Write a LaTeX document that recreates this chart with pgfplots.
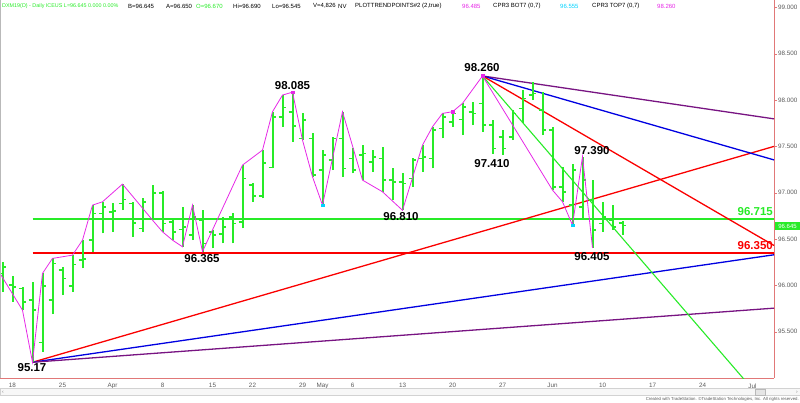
\documentclass[border=0pt]{standalone}
\usepackage{pgfplots}
\pgfplotsset{compat=1.18}
\usepackage{pgfplotstable}
\usepackage{fontspec}
\setmainfont{Liberation Sans}

\definecolor{barg}{RGB}{40,235,40}
\definecolor{lred}{RGB}{250,0,0}
\definecolor{lblue}{RGB}{0,0,225}
\definecolor{lpurple}{RGB}{120,20,130}
\definecolor{swing}{RGB}{230,40,230}
\definecolor{dotcyan}{RGB}{0,210,255}
\definecolor{axred}{RGB}{225,120,120}
\definecolor{lblgray}{RGB}{90,90,90}

% daily bars: day index, high, low, open, close
\pgfplotstableread{
d H L O C
-1 96.254 95.930 96.129 96.200
0 96.099 95.822 96.002 95.984
1 95.977 95.732 95.967 95.822
2 96.038 95.170 95.840 95.732
3 96.129 95.282 95.383 95.991
4 96.291 95.689 95.840 96.237
5 96.193 95.894 96.164 96.075
6 96.326 95.930 95.991 96.226
7 96.488 96.183 96.272 96.283
8 96.866 96.362 96.488 96.777
9 96.902 96.561 96.777 96.848
10 96.885 96.578 96.794 96.805
11 97.093 96.812 96.885 96.928
12 96.902 96.524 96.885 96.675
13 96.939 96.578 96.615 96.902
14 97.082 96.704 96.712 96.999
15 97.021 96.578 96.999 96.669
16 96.704 96.488 96.686 96.578
17 96.848 96.416 96.604 96.632
18 96.866 96.488 96.542 96.740
19 96.812 96.365 96.704 96.453
20 96.596 96.399 96.578 96.542
21 96.740 96.453 96.553 96.632
22 96.777 96.453 96.740 96.669
23 97.298 96.615 96.686 97.155
24 97.101 96.902 97.082 96.963
25 97.460 96.939 96.963 97.323
26 97.874 97.263 97.270 97.820
27 98.054 97.712 97.820 97.921
28 98.085 97.550 97.874 97.719
29 97.856 97.568 97.586 97.784
30 97.640 97.172 97.586 97.190
31 97.460 96.866 97.244 97.406
32 97.604 97.244 97.352 97.586
33 97.874 97.172 97.586 97.263
34 97.479 97.209 97.371 97.244
35 97.514 97.136 97.406 97.425
36 97.460 97.226 97.334 97.388
37 97.496 97.010 97.371 97.136
38 97.263 96.920 97.136 97.118
39 97.209 96.810 97.118 97.101
40 97.371 97.064 97.155 97.352
41 97.514 97.226 97.371 97.388
42 97.712 97.263 97.371 97.676
43 97.856 97.586 97.694 97.820
44 97.874 97.712 97.766 97.856
45 97.964 97.622 97.792 97.928
46 97.982 97.730 97.874 97.856
47 98.260 97.658 97.964 97.730
48 97.784 97.420 97.730 97.479
49 97.676 97.410 97.604 97.479
50 97.892 97.568 97.604 97.856
51 98.108 97.748 97.910 98.018
52 98.198 98.000 98.054 98.072
53 98.090 97.622 97.892 97.676
54 97.712 97.028 97.676 97.064
55 97.280 96.902 97.064 97.010
56 97.309 96.650 96.866 97.244
57 97.390 96.723 96.848 97.136
58 97.136 96.405 96.920 96.596
59 96.902 96.578 96.669 96.740
60 96.866 96.596 96.704 96.632
61 96.690 96.545 96.670 96.645
}\bars

\pgfdeclareplotmark{opentick}{\pgfpathmoveto{\pgfqpoint{-3.8pt}{0pt}}\pgfpathlineto{\pgfqpoint{0pt}{0pt}}\pgfusepathqstroke}
\pgfdeclareplotmark{closetick}{\pgfpathmoveto{\pgfqpoint{0pt}{0pt}}\pgfpathlineto{\pgfqpoint{3.8pt}{0pt}}\pgfusepathqstroke}

\begin{document}
\begin{tikzpicture}
\begin{axis}[
    at={(0pt,24pt)}, anchor=south west,
    width=774pt, height=378pt, scale only axis,
    xmin=-1.25, xmax=76.15,
    ymin=95.0, ymax=99.08,
    clip mode=individual,
    axis x line*=bottom, axis y line*=right,
    axis line style={draw=axred, line width=0.7pt},
    tick align=outside,
    major tick length=3pt,
    ytick={95.5,96,96.5,97,97.5,98,98.5,99},
    yticklabels={95.500,96.000,96.500,97.000,97.500,98.000,98.500,99.000},
    ytick style={draw=axred},
    xtick={0,5,10,15,20,24,29,31,34,39,44,49,54,59,64,69,74},
    xticklabels={18,25,Apr,8,15,22,29,May,6,13,20,27,Jun,10,17,24,Jul},
    xtick style={draw=none},
    ticklabel style={font=\fontsize{6.3}{7}\selectfont, text=lblgray},
    yticklabel style={inner sep=1pt},
    xticklabel style={yshift=1pt},
]
% support / resistance lines
\addplot[barg, line width=1.7pt] coordinates {(2,96.715) (76.15,96.715)};
\addplot[lred, line width=1.7pt] coordinates {(2,96.35) (76.15,96.35)};
% lines from the 95.17 low
\addplot[lred, line width=1.3pt] coordinates {(2,95.17) (76.15,97.50)};
\addplot[lblue, line width=1.3pt] coordinates {(2,95.17) (76.15,96.33)};
\addplot[lpurple, line width=1.3pt] coordinates {(2,95.17) (76.15,95.754)};
% lines from the 98.260 high
\addplot[lpurple, line width=1.3pt] coordinates {(47,98.26) (76.15,97.797)};
\addplot[lblue, line width=1.3pt] coordinates {(47,98.26) (76.15,97.354)};
\addplot[lred, line width=1.3pt] coordinates {(47,98.26) (76.15,96.43)};
\addplot[barg, line width=1.1pt] coordinates {(47,98.26) (74,94.88)};

% OHLC bars
\addplot[draw=none, mark=none, error bars/.cd, y dir=plus, y explicit,
    error mark=none, error bar style={draw=barg, line width=2pt}]
    table[x=d, y=L, y error expr=\thisrow{H}-\thisrow{L}] {\bars};
\addplot[only marks, mark=opentick, draw=barg, mark options={draw=barg, solid, line width=1.6pt}] table[x=d, y=O] {\bars};
\addplot[only marks, mark=closetick, draw=barg, mark options={draw=barg, solid, line width=1.6pt}] table[x=d, y=C] {\bars};

% swing line
\addplot[swing, line width=0.8pt] coordinates {
(-1.25,96.129) (1,95.732) (2,95.17) (3,96.129) (4,96.291) (6,96.326) (7,96.488)
(8,96.866) (9,96.902) (11,97.093) (14,96.704) (15,96.578) (16,96.488) (17,96.416)
(18,96.866) (19,96.365) (23,97.298) (25,97.460) (26,97.874) (27,98.054) (28,98.085)
(29,97.568) (30,97.172) (31,96.866) (33,97.874) (35,97.136) (37,97.010) (39,96.810)
(41,97.514) (42,97.712) (43,97.856) (44,97.874) (45,97.964) (47,98.260) (54,97.028)
(55,96.902) (56,96.650) (57,97.390) (58,96.405)};
\addplot[only marks, mark=square*, mark size=1.4pt, swing] coordinates {(28,98.085) (44,97.874) (47,98.26)};
\addplot[only marks, mark=square*, mark size=1.4pt, dotcyan] coordinates {(31,96.866) (56,96.650)};

% labels
\begin{scope}[every node/.style={font=\bfseries\fontsize{11.5}{13}\selectfont, inner sep=0pt}]
\node at (axis cs:1.95,95.117) {95.17};
\node at (axis cs:18.95,96.294) {96.365};
\node at (axis cs:28.0,98.162) {98.085};
\node at (axis cs:38.85,96.740) {96.810};
\node at (axis cs:46.95,98.356) {98.260};
\node at (axis cs:47.95,97.320) {97.410};
\node at (axis cs:57.95,97.460) {97.390};
\node at (axis cs:57.95,96.308) {96.405};
\node[anchor=east, text=barg] at (axis cs:76.05,96.80) {96.715};
\node[anchor=east, text=lred] at (axis cs:76.05,96.434) {96.350};
\end{scope}
\end{axis}

% left border
\draw[gray!55, line width=0.8pt] (0.4pt,24pt) -- (0.4pt,402pt);
% last price marker
\node[fill=barg, text=white, minimum width=25pt, minimum height=8.5pt, inner sep=0pt,
    font=\fontsize{6}{7}\selectfont] at (787.5pt,176pt) {96.645};
% scrollbar
\draw[gray!35, fill=gray!6] (0pt,6.5pt) rectangle (800pt,13.5pt);
\draw[gray!55, fill=gray!20] (755pt,7pt) rectangle (765pt,13pt);
\node[font=\fontsize{5}{6}\selectfont, text=gray] at (3pt,10pt) {‹};
\node[font=\fontsize{5}{6}\selectfont, text=gray] at (797pt,10pt) {›};
% header
\begin{scope}[every node/.style={anchor=west, inner sep=0pt, font=\fontsize{6}{7}\selectfont}]
\node[text=barg, font=\fontsize{5.4}{7}\selectfont] at (2pt,396pt) {DXM19(D) - Daily ICEUS L=96.645 0.000 0.00\%};
\node at (128pt,396pt) {B=96.645};
\node at (166pt,396pt) {A=96.650};
\node[text=barg] at (196pt,396pt) {O=96.670};
\node at (233pt,396pt) {Hi=96.690};
\node at (272pt,396pt) {Lo=96.545};
\node at (313pt,396pt) {V=4,826};
\node at (338pt,396pt) {NV};
\node at (355pt,396pt) {PLOTTRENDPOINTS\#2 (2,true)};
\node[text=swing] at (462pt,396pt) {96.485};
\node at (493pt,396pt) {CPR3 BOT7 (0,7)};
\node[text=dotcyan] at (560pt,396pt) {96.555};
\node at (592pt,396pt) {CPR3 TOP7 (0,7)};
\node[text=swing] at (657pt,396pt) {98.260};
\end{scope}
% copyright
\node[anchor=east, inner sep=0pt, font=\fontsize{4.3}{5}\selectfont, text=lblgray] at (799pt,3pt)
    {Created with TradeStation. \textcopyright TradeStation Technologies, Inc. All rights reserved.};

\pgfresetboundingbox
\path[use as bounding box] (0pt,0pt) rectangle (800pt,402pt);
\end{tikzpicture}
\end{document}
